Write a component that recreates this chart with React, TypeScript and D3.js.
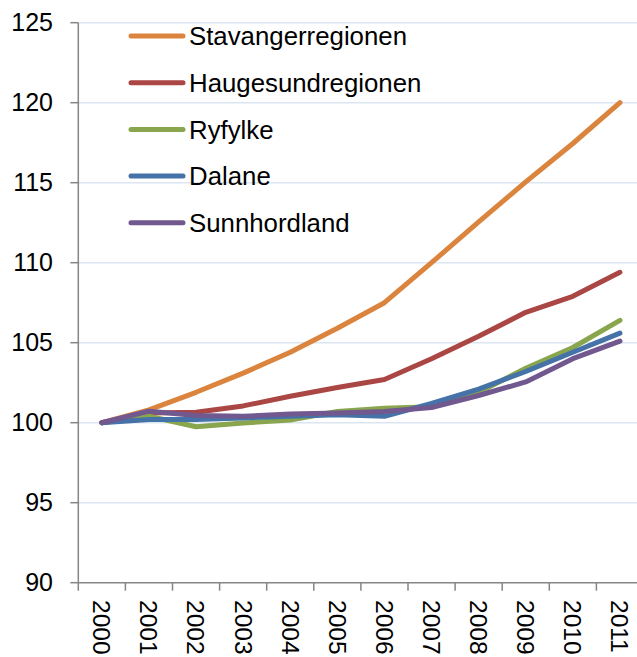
import React from "react";
import * as d3 from "d3";

const years = ["2000","2001","2002","2003","2004","2005","2006","2007","2008","2009","2010","2011"];
const stavanger = [100, 100.8, 101.9, 103.1, 104.4, 105.9, 107.5, 110.0, 112.55, 115.05, 117.45, 120.0];
const haugesund = [100, 100.6, 100.65, 101.05, 101.65, 102.2, 102.7, 104.0, 105.4, 106.9, 107.9, 109.4];
const ryfylke = [100, 100.4, 99.75, 99.98, 100.17, 100.7, 100.9, 101.0, 101.9, 103.4, 104.7, 106.4];
const dalane = [100, 100.2, 100.2, 100.3, 100.4, 100.5, 100.4, 101.2, 102.1, 103.2, 104.4, 105.6];
const sunnhordland = [100, 100.72, 100.45, 100.4, 100.55, 100.6, 100.7, 100.95, 101.7, 102.55, 104.0, 105.1];
const seriesNames = ["Stavangerregionen", "Haugesundregionen", "Ryfylke", "Dalane", "Sunnhordland"];
const seriesColors = ["#DB843D", "#AA4643", "#89A54E", "#4572A7", "#71588F"];
const yTicks = [90, 95, 100, 105, 110, 115, 120, 125];

const W = 637, H = 657;
const left = 78.3, top = 22.7, bottom = 582.7;
const step = 47.1;

export default function App() {
  const seriesValues = [stavanger, haugesund, ryfylke, dalane, sunnhordland];
  const x = d3.scaleBand<string>().domain(years).range([left, left + step * years.length]);
  const y = d3.scaleLinear().domain([90, 125]).range([bottom, top]);
  const cx = (yr: string) => (x(yr) as number) + x.bandwidth() / 2;
  const line = d3.line<number>().x((_, i) => cx(years[i])).y((v) => y(v));
  const font = "'Liberation Sans', Arial, sans-serif";
  const tickEdges = d3.range(years.length + 1).map((i) => left + i * x.step());

  return (
    <svg width={W} height={H} style={{ position: "absolute", left: 0, top: 0, background: "#fff" }} fontFamily={font}>
      {yTicks.filter((t) => t !== 90).map((t) => (
        <line key={"g" + t} x1={left} x2={W} y1={y(t)} y2={y(t)} stroke="#DCE6F2" strokeWidth={1.5} />
      ))}
      <line x1={left} x2={left} y1={top} y2={bottom} stroke="#868686" strokeWidth={1.5} />
      <line x1={left} x2={W} y1={bottom} y2={bottom} stroke="#868686" strokeWidth={1.5} />
      {yTicks.map((t) => (
        <g key={"y" + t}>
          <line x1={left - 8} x2={left} y1={y(t)} y2={y(t)} stroke="#868686" strokeWidth={1.5} />
          <text x={53} y={y(t)} dy="0.35em" textAnchor="end" fontSize={25} fill="#000">{t}</text>
        </g>
      ))}
      {tickEdges.map((tx, i) => (
        <line key={"xt" + i} x1={tx} x2={tx} y1={bottom} y2={bottom + 8} stroke="#868686" strokeWidth={1.5} />
      ))}
      {years.map((yr) => (
        <text key={"xl" + yr} transform={`translate(${cx(yr)},600) rotate(90)`} dy="0.35em" textAnchor="start" fontSize={24.5} fill="#000">{yr}</text>
      ))}
      {seriesValues.map((vals, i) => (
        <path key={"s" + i} d={line(vals) as string} fill="none" stroke={seriesColors[i]} strokeWidth={5} strokeLinecap="round" strokeLinejoin="round" />
      ))}
      {seriesNames.map((name, i) => {
        const ly = 36 + i * 46.7;
        return (
          <g key={"lg" + i}>
            <line x1={131} x2={183} y1={ly} y2={ly} stroke={seriesColors[i]} strokeWidth={5} strokeLinecap="round" />
            <text x={189} y={ly} dy="0.36em" fontSize={25.8} fill="#000">{name}</text>
          </g>
        );
      })}
    </svg>
  );
}
